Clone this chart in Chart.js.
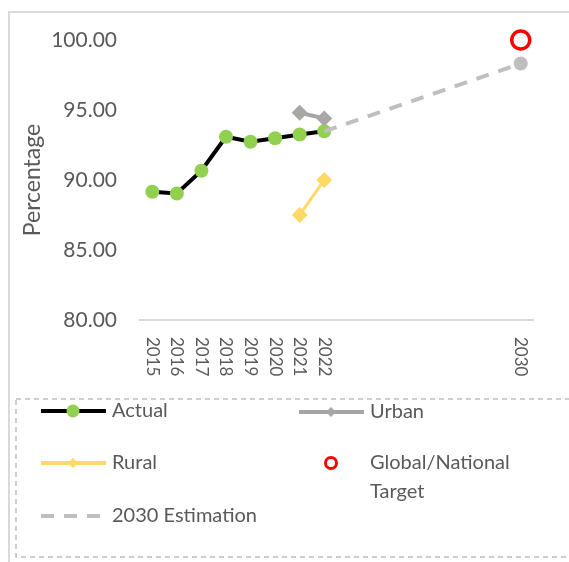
<!DOCTYPE html>
<html>
<head>
<meta charset="utf-8">
<script src="https://cdn.jsdelivr.net/npm/chart.js@4.4.1/dist/chart.umd.min.js"></script>
<style>
  html, body { margin: 0; padding: 0; background: #fff; }
  #wrap { width: 569px; height: 562px; position: relative; }
</style>
</head>
<body>
<div id="wrap"><canvas id="chart" width="569" height="562"></canvas></div>
<script>
// Data
const years = [2015, 2016, 2017, 2018, 2019, 2020, 2021, 2022];
const actual = [89.16, 89.04, 90.66, 93.09, 92.73, 92.98, 93.25, 93.48];
const urbanYears = [2021, 2022];
const urban = [94.8, 94.4];
const ruralYears = [2021, 2022];
const rural = [87.5, 90.0];
const estimationYears = [2022, 2030];
const estimation = [93.48, 98.32];
const targetYears = [2030];
const target = [100];
const xTickYears = [2015, 2016, 2017, 2018, 2019, 2020, 2021, 2022, 2030];
const xTickLabels = ['2015', '2016', '2017', '2018', '2019', '2020', '2021', '2022', '2030'];

const textColor = '#595959';
const fontFamily = 'Lato, "Open Sans", sans-serif';

function toPoints(xs, ys) {
    return xs.map((x, i) => ({ x: x, y: ys[i] }));
}

// Frame around the chart and rotated year labels
const framePlugin = {
    id: 'frame',
    beforeDraw(chart) {
        const ctx = chart.ctx;
        ctx.save();
        ctx.fillStyle = '#fff';
        ctx.fillRect(0, 0, chart.width, chart.height);
        ctx.strokeStyle = '#D9D9D9';
        ctx.lineWidth = 2;
        ctx.strokeRect(9, 12, 700, 700);
        ctx.restore();
    },
    afterDraw(chart) {
        const ctx = chart.ctx;
        const xScale = chart.scales.x;
        ctx.save();
        ctx.fillStyle = textColor;
        ctx.font = '17px ' + fontFamily;
        ctx.textAlign = 'left';
        ctx.textBaseline = 'middle';
        xTickYears.forEach((yr, i) => {
            const px = xScale.getPixelForValue(yr);
            ctx.save();
            ctx.translate(px, 337);
            ctx.rotate(Math.PI / 2);
            ctx.fillText(xTickLabels[i], 0, 0);
            ctx.restore();
        });
        ctx.restore();
    }
};

// Custom two-column legend inside a dashed box
const legendPlugin = {
    id: 'boxLegend',
    afterDraw(chart) {
        const ctx = chart.ctx;
        const ds = chart.data.datasets;
        ctx.save();
        ctx.strokeStyle = '#BFBFBF';
        ctx.lineWidth = 1.5;
        ctx.setLineDash([5, 4]);
        ctx.strokeRect(16, 399, 700, 158);
        ctx.setLineDash([]);

        const items = [
            { d: ds[0], x: 41, y: 411 },
            { d: ds[1], x: 299, y: 412 },
            { d: ds[2], x: 41, y: 463 },
            { d: ds[4], x: 299, y: 463, noLine: true, lines: ['Global/National', 'Target'] },
            { d: ds[3], x: 41, y: 516, noMarker: true }
        ];
        ctx.font = '20px ' + fontFamily;
        ctx.textBaseline = 'middle';
        items.forEach(it => {
            const d = it.d;
            const cx = it.x + 32;
            if (!it.noLine) {
                ctx.strokeStyle = d.borderColor;
                ctx.lineWidth = 4;
                ctx.setLineDash(d.borderDash || []);
                ctx.beginPath();
                ctx.moveTo(it.x, it.y);
                ctx.lineTo(it.x + 65, it.y);
                ctx.stroke();
                ctx.setLineDash([]);
            }
            if (!it.noMarker) {
                if (d.pointStyle === 'rectRot') {
                    ctx.fillStyle = d.pointBackgroundColor;
                    ctx.beginPath();
                    ctx.moveTo(cx, it.y - 5);
                    ctx.lineTo(cx + 5, it.y);
                    ctx.lineTo(cx, it.y + 5);
                    ctx.lineTo(cx - 5, it.y);
                    ctx.closePath();
                    ctx.fill();
                } else if (it.noLine) {
                    ctx.strokeStyle = d.borderColor;
                    ctx.lineWidth = 3;
                    ctx.beginPath();
                    ctx.arc(cx, it.y, 5.5, 0, Math.PI * 2);
                    ctx.stroke();
                } else {
                    ctx.fillStyle = d.pointBackgroundColor;
                    ctx.beginPath();
                    ctx.arc(cx, it.y, 6.5, 0, Math.PI * 2);
                    ctx.fill();
                }
            }
            ctx.fillStyle = textColor;
            const lines = it.lines || [d.label];
            lines.forEach((t, k) => ctx.fillText(t, it.x + 71, it.y + k * 29));
        });
        ctx.restore();
    }
};

new Chart(document.getElementById('chart'), {
    type: 'line',
    data: {
        datasets: [
            {
                label: 'Actual',
                data: toPoints(years, actual),
                borderColor: '#000000',
                borderWidth: 4,
                pointStyle: 'circle',
                pointRadius: 7,
                pointBackgroundColor: '#92D050',
                pointBorderWidth: 0,
                order: 3
            },
            {
                label: 'Urban',
                data: toPoints(urbanYears, urban),
                borderColor: '#A5A5A5',
                borderWidth: 4,
                pointStyle: 'rectRot',
                pointRadius: 8,
                pointBackgroundColor: '#A9A6A6',
                pointBorderWidth: 0,
                order: 2
            },
            {
                label: 'Rural',
                data: toPoints(ruralYears, rural),
                borderColor: '#FFD966',
                borderWidth: 3,
                pointStyle: 'rectRot',
                pointRadius: 8,
                pointBackgroundColor: '#FFD966',
                pointBorderWidth: 0,
                order: 2
            },
            {
                label: '2030 Estimation',
                data: toPoints(estimationYears, estimation),
                borderColor: '#BFBFBF',
                borderWidth: 4,
                borderDash: [13, 10],
                pointRadius: [0, 7],
                pointBackgroundColor: '#BFBFBF',
                pointBorderWidth: 0,
                order: 0
            },
            {
                label: 'Global/National Target',
                data: toPoints(targetYears, target),
                showLine: false,
                clip: false,
                borderColor: '#FF0000',
                pointRadius: 9,
                pointBorderWidth: 3.5,
                pointBackgroundColor: '#FFFFFF',
                order: 1
            }
        ]
    },
    options: {
        responsive: false,
        animation: false,
        layout: { padding: { left: 0, top: 40, right: 36, bottom: 0 } },
        plugins: {
            legend: { display: false },
            tooltip: { enabled: false }
        },
        scales: {
            x: {
                type: 'linear',
                min: 2014.5,
                max: 2030.5,
                grid: { display: false },
                border: { display: true, color: '#D9D9D9', width: 2 },
                ticks: { display: false },
                afterFit: s => { s.height = 242; }
            },
            y: {
                min: 80,
                max: 100,
                grid: { display: false, drawTicks: false },
                border: { display: false },
                ticks: {
                    stepSize: 5,
                    padding: 23,
                    color: textColor,
                    font: { family: fontFamily, size: 21 },
                    callback: v => v.toFixed(2)
                },
                title: {
                    display: true,
                    text: 'Percentage',
                    color: textColor,
                    font: { family: fontFamily, size: 23 },
                    padding: { top: 19, bottom: 0 }
                },
                afterFit: s => { s.width = 140; }
            }
        }
    },
    plugins: [framePlugin, legendPlugin]
});
</script>
</body>
</html>
